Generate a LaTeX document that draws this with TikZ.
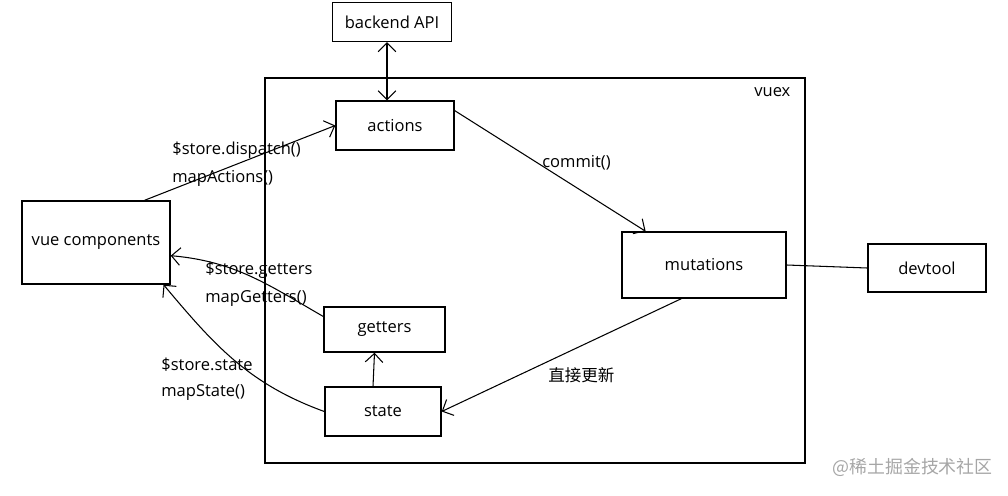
\documentclass[tikz,border=0pt]{standalone}
\usepackage{fontspec}
\setmainfont{Open Sans}
\newfontfamily\cjk{Noto Sans CJK SC}
\usetikzlibrary{arrows.meta}

\tikzset{
  box/.style={shape=rectangle,draw=black,line width=0.8pt,inner sep=0pt},
  lbl/.style={anchor=west,inner sep=0pt},
}

\begin{document}
\begin{tikzpicture}[>={Straight Barb[length=5pt,width=10pt]},font=\fontsize{9.4}{11}\selectfont]
    \useasboundingbox (0,0) rectangle (20.16,-9.9);
    % vuex frame
    \draw[line width=0.8pt] (5.30,-1.56) rectangle (16.10,-9.26);
    \node[lbl] (vuex) at (15.08,-1.84) {vuex};
    % boxes
    \node[box,minimum width=2.38cm,minimum height=0.78cm] (api) at (7.84,-0.44) {backend API};
    \node[box,minimum width=2.36cm,minimum height=0.98cm] (actions) at (7.90,-2.51) {actions};
    \node[box,minimum width=3.28cm,minimum height=1.32cm] (mutations) at (14.08,-5.30) {mutations};
    \node[box,minimum width=2.36cm,minimum height=0.96cm] (devtool) at (18.54,-5.36) {devtool};
    \node[box,minimum width=2.96cm,minimum height=1.66cm] (vue) at (1.92,-4.85) {vue components};
    \node[box,minimum width=2.42cm,minimum height=0.90cm] (getters) at (7.69,-6.59) {getters};
    \node[box,minimum width=2.32cm,minimum height=0.98cm] (state) at (7.66,-8.23) {state};
    % labels
    \node[lbl] (dispatch) at (3.44,-3.01) {\$store.dispatch()};
    \node[lbl] (mapact) at (3.44,-3.56) {mapActions()};
    \node[lbl] (commit) at (10.84,-3.25) {commit()};
    \node[lbl] (sgetters) at (4.10,-5.41) {\$store.getters};
    \node[lbl] (mapget) at (4.10,-5.97) {mapGetters()};
    \node[lbl] (sstate) at (3.22,-7.29) {\$store.state};
    \node[lbl] (mapstate) at (3.22,-7.85) {mapState()};
    \node[lbl] (direct) at (10.96,-7.50) {\cjk 直接更新};
    \node[lbl,text=black!35,font=\cjk\fontsize{10.2}{12}\selectfont] (mark) at (16.64,-9.34) {@稀土掘金技术社区};
    % connectors
    \path [<->] ([xshift=-0.1cm]api.south) edge [semithick] ([xshift=-0.16cm]actions.north);
    \path [->] (vue.41) edge [semithick] (actions.west);
    \path [->] (actions.14) edge [semithick] (mutations.150);
    \path (mutations.east) edge [semithick] (devtool.west);
    \path [->] (mutations.236) edge [semithick] (state.east);
    \path [->] ([xshift=-0.2cm]state.north) edge [semithick] ([xshift=-0.2cm]getters.south);
    \path [->] (getters.168) edge [semithick, out=150, in=-5] (vue.-10);
    \path [->] (state.west) edge [semithick, out=160, in=-50] (vue.-32);
\end{tikzpicture}
\end{document}
